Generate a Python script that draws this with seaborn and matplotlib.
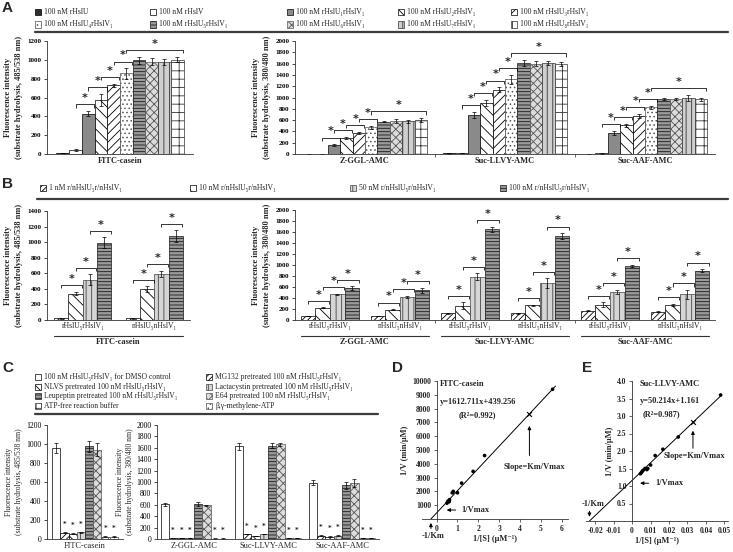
import numpy as np
import pandas as pd
import matplotlib
matplotlib.use("Agg")
import matplotlib.pyplot as plt
import matplotlib.transforms as mtransforms
from matplotlib.patches import Rectangle
from matplotlib.lines import Line2D
import seaborn as sns

# ======================= DATA =======================
# ---- Panel A ----
A_series = ["100 nM rHslU", "100 nM rHslV", "100 nM rHslU₁rHslV₁", "100 nM rHslU₂rHslV₁",
            "100 nM rHslU₃rHslV₁", "100 nM rHslU₄rHslV₁", "100 nM rHslU₅rHslV₁",
            "100 nM rHslU₆rHslV₁", "100 nM rHslU₇rHslV₁", "100 nM rHslU₈rHslV₁"]
A_left_cats = ["FITC-casein"]
A_right_cats = ["Z-GGL-AMC", "Suc-LLVY-AMC", "Suc-AAF-AMC"]
A_fitc = [10, 45, 430, 570, 730, 855, 995, 980, 980, 1000]
A_fitc_err = [3, 8, 25, 65, 15, 55, 35, 40, 30, 25]
A_zggl = [5, 5, 160, 285, 375, 470, 575, 590, 580, 600]
A_zggl_err = [2, 2, 12, 20, 15, 25, 15, 35, 25, 35]
A_llvy = [10, 20, 690, 905, 1140, 1320, 1610, 1600, 1610, 1600]
A_llvy_err = [3, 3, 50, 55, 40, 80, 50, 50, 30, 35]
A_aaf = [5, 10, 370, 505, 670, 830, 975, 975, 995, 965]
A_aaf_err = [3, 3, 40, 30, 40, 25, 25, 25, 55, 35]
A_brackets = [(1, 2), (2, 3), (3, 4), (4, 5), (5, 9)]

# ---- Panel B ----
B_series = ["1 nM r/nHslU₅r/nHslV₁", "10 nM r/nHslU₅r/nHslV₁",
            "50 nM r/nHslU₅r/nHslV₁", "100 nM r/nHslU₅r/nHslV₁"]
B_groups = ["rHslU₅rHslV₁", "nHslU₅nHslV₁"]
B_left_sub = "FITC-casein"
B_right_subs = ["Z-GGL-AMC", "Suc-LLVY-AMC", "Suc-AAF-AMC"]
B_fitc_r = [20, 340, 520, 990]
B_fitc_r_err = [3, 25, 70, 70]
B_fitc_n = [20, 395, 590, 1075]
B_fitc_n_err = [3, 40, 40, 75]
B_zggl_r = [70, 220, 465, 580]
B_zggl_r_err = [5, 8, 15, 30]
B_zggl_n = [70, 190, 420, 540]
B_zggl_n_err = [5, 8, 20, 50]
B_llvy_r = [120, 260, 790, 1650]
B_llvy_r_err = [5, 60, 60, 50]
B_llvy_n = [120, 265, 670, 1530]
B_llvy_n_err = [5, 15, 90, 50]
B_aaf_r = [170, 280, 510, 980]
B_aaf_r_err = [10, 40, 40, 25]
B_aaf_n = [150, 280, 465, 895]
B_aaf_n_err = [10, 20, 80, 30]
B_brackets = [(0, 1), (1, 2), (2, 3)]

# ---- Panel C ----
C_series = ["100 nM rHslU₅rHslV₁ for DMSO control", "MG132 pretreated 100 nM rHslU₅rHslV₁",
            "NLVS pretreated 100 nM rHslU₅rHslV₁", "Lactacystin pretreated 100 nM rHslU₅rHslV₁",
            "Leupeptin pretreated 100 nM rHslU₅rHslV₁", "E64 pretreated 100 nM rHslU₅rHslV₁",
            "ATP-free reaction buffer", "β,γ-methylene-ATP"]
C_left_cats = ["FITC-casein"]
C_right_cats = ["Z-GGL-AMC", "Suc-LLVY-AMC", "Suc-AAF-AMC"]
C_fitc = [960, 65, 55, 70, 975, 940, 25, 25]
C_fitc_err = [55, 5, 5, 5, 60, 70, 3, 3]
C_zggl = [610, 15, 12, 15, 615, 595, 8, 8]
C_zggl_err = [30, 2, 2, 2, 30, 10, 2, 2]
C_llvy = [1630, 90, 50, 90, 1640, 1660, 12, 12]
C_llvy_err = [60, 5, 5, 5, 40, 30, 2, 2]
C_aaf = [990, 60, 40, 60, 940, 975, 12, 12]
C_aaf_err = [50, 5, 5, 5, 60, 70, 2, 2]
C_starred = [1, 2, 3, 6, 7]

# ---- Panel D / E (Lineweaver-Burk) ----
D_x = [0.5, 0.55, 0.6, 0.62, 0.75, 0.8, 1.0, 1.2, 1.75, 2.3, 5.56]
D_y = [1150, 1300, 1250, 1400, 1900, 2000, 1900, 2600, 3450, 4600, 9400]
D_slope, D_icpt, D_r2 = 1612.711, 439.256, 0.992
D_mark_x = 4.45
E_x = [0.0045, 0.005, 0.0055, 0.006, 0.007, 0.008, 0.0085, 0.01, 0.0125, 0.0167, 0.025, 0.048]
E_y = [1.35, 1.38, 1.42, 1.45, 1.5, 1.47, 1.5, 1.6, 1.87, 2.05, 2.4, 3.6]
E_slope, E_icpt, E_r2 = 50.214, 1.161, 0.987
E_mark_x = 0.033

# ======================= STYLE =======================
sns.set_theme(style="ticks")
SER = ["Liberation Serif", "DejaVu Serif"]
plt.rcParams["font.family"] = SER
plt.rcParams["hatch.linewidth"] = 0.6
plt.rcParams["axes.linewidth"] = 0.6

A_styles = [("#2e2e2e", "", "black"), ("white", "", "black"), ("#8a8a8a", "", "black"),
            ("white", "\\\\\\", "black"), ("white", "////", "black"), ("white", "....", "#555555"),
            ("#9a9a9a", "-----", "#1a1a1a"), ("#dcdcdc", "xxxx", "#555555"),
            ("#cfcfcf", "|||", "#333333"), ("white", "++", "#333333")]
B_styles = [("white", "//////", "black"), ("white", "\\\\\\", "black"),
            ("#d5d5d5", "|||", "#444444"), ("#9a9a9a", "-----", "#1a1a1a")]
C_styles = [("white", "", "black"), ("white", "//////", "black"), ("white", "\\\\\\\\", "black"),
            ("#d5d5d5", "|||", "#444444"), ("#9a9a9a", "-----", "#1a1a1a"),
            ("#dcdcdc", "xxxx", "#555555"), ("white", "+++", "#333333"), ("white", "....", "#555555")]

W, H = 733, 552
fig = plt.figure(figsize=(W / 100, H / 100), dpi=100)


def fx(x):
    return x / W


def fy(y):
    return 1 - y / H


def axes_px(l, t, r, b):
    return fig.add_axes([l / W, 1 - b / H, (r - l) / W, (b - t) / H])


def draw_bars(ax, cats, series, table, errs, styles, width):
    rows = [(c, s, table[ci][si]) for ci, c in enumerate(cats) for si, s in enumerate(series)]
    df = pd.DataFrame(rows, columns=["cat", "series", "val"])
    sns.barplot(data=df, x="cat", y="val", hue="series", order=cats, hue_order=series,
                palette=[st[0] for st in styles], saturation=1, errorbar=None, width=width,
                dodge=True, legend=False, ax=ax, linewidth=0.5, edgecolor="black")
    conts = list(ax.containers)
    for si, (cont, st) in enumerate(zip(conts, styles)):
        face, hatch, edge = st
        xs, ys, es = [], [], []
        for ci, p in enumerate(cont.patches):
            p.set_facecolor(face)
            p.set_edgecolor(edge)
            p.set_hatch(hatch)
            p.set_linewidth(0.5)
            xs.append(p.get_x() + p.get_width() / 2)
            ys.append(p.get_height())
            es.append(errs[ci][si])
        ax.errorbar(xs, ys, yerr=es, fmt="none", ecolor="black", elinewidth=0.5,
                    capsize=1.4, capthick=0.5)
    ax.set_xlim(-0.5, len(cats) - 0.5)
    return conts


def bracket(ax, conts, c, i, j, vals, errs, ymax):
    pi, pj = conts[i].patches[c], conts[j].patches[c]
    w = pi.get_width()
    x1 = pi.get_x() + w / 2
    x2 = pj.get_x() + w / 2 + 0.45 * w
    top = max(vals[k] + errs[k] for k in range(i, j + 1))
    y = top + 0.06 * ymax
    ax.plot([x1, x1, x2, x2], [y - 0.028 * ymax, y, y, y - 0.028 * ymax], color="black",
            lw=0.55, solid_capstyle="butt", clip_on=False)
    ax.text((x1 + x2) / 2, y + 0.055 * ymax, "*", ha="center", va="center", fontsize=8,
            fontweight="bold", family="DejaVu Sans", clip_on=False)


def style_axes(ax, ymax, step, bold=True, tfs=5.0):
    ax.set_ylim(0, ymax)
    ax.set_yticks(np.arange(0, ymax + 1, step))
    sns.despine(ax=ax)
    for sp in ["left", "bottom"]:
        ax.spines[sp].set_linewidth(0.6)
        ax.spines[sp].set_color("#333333")
    ax.tick_params(axis="y", length=2, width=0.5, pad=2, labelsize=tfs, colors="black")
    ax.tick_params(axis="x", which="major", length=0, pad=2.5)
    ax.tick_params(axis="x", which="minor", length=2, width=0.5)
    ax.set_xlabel("")
    for lab in ax.get_yticklabels():
        lab.set_fontweight("bold" if bold else "normal")


def legend_item(x, y, label, style, fs=5.5, box=6):
    face, hatch, edge = style
    fig.add_artist(Rectangle((fx(x), fy(y + box / 2)), box / W, box / H,
                             transform=fig.transFigure, facecolor=face, edgecolor=edge,
                             hatch=hatch, lw=0.5))
    fig.text(fx(x + box + 3), fy(y), label, fontsize=fs, va="center", ha="left")


def hline(x0, x1, y, lw=1.6):
    fig.add_artist(Line2D([fx(x0), fx(x1)], [fy(y), fy(y)], transform=fig.transFigure,
                          color="#3c3c3c", lw=lw))


def panel_letter(x, y, s):
    fig.text(fx(x), fy(y), s, fontsize=11, fontweight="bold", family="Liberation Sans",
             va="center", ha="left")


YL1 = "Fluorescence intensity\n(substrate hydrolysis, 485/538 nm)"
YL2 = "Fluorescence intensity\n(substrate hydrolysis, 380/480 nm)"

# ======================= PANEL A =======================
panel_letter(2, 8, "A")
A_cols = [35, 150, 287, 398, 511]
for k, (lab, st) in enumerate(zip(A_series, A_styles)):
    row = k // 5
    col = k % 5
    legend_item(A_cols[col], 12 + 12.5 * row, lab, st)
hline(35, 728, 32)

axA1 = axes_px(47, 41, 193, 154)
conts = draw_bars(axA1, A_left_cats, A_series, [A_fitc], [A_fitc_err], A_styles, 0.87)
style_axes(axA1, 1200, 200)
for (i, j) in A_brackets:
    bracket(axA1, conts, 0, i, j, A_fitc, A_fitc_err, 1200)
axA1.set_xticks([0])
axA1.set_xticklabels(A_left_cats, fontsize=6, fontweight="bold")
axA1.set_ylabel(YL1, fontsize=6, fontweight="bold", labelpad=3, linespacing=1.5)

axA2 = axes_px(295, 41, 715, 154)
A_right_tab = [A_zggl, A_llvy, A_aaf]
A_right_err = [A_zggl_err, A_llvy_err, A_aaf_err]
conts = draw_bars(axA2, A_right_cats, A_series, A_right_tab, A_right_err, A_styles, 0.885)
style_axes(axA2, 2000, 200)
for c in range(3):
    for (i, j) in A_brackets:
        bracket(axA2, conts, c, i, j, A_right_tab[c], A_right_err[c], 2000)
axA2.set_xticks(range(3))
axA2.set_xticklabels(A_right_cats, fontsize=6, fontweight="bold")
axA2.set_xticks([0.5, 1.5], minor=True)
axA2.set_ylabel(YL2, fontsize=6, fontweight="bold", labelpad=3, linespacing=1.5)

# ======================= PANEL B =======================
panel_letter(2, 184, "B")
B_cols = [40, 190, 350, 500]
for k, (lab, st) in enumerate(zip(B_series, B_styles)):
    legend_item(B_cols[k], 188, lab, st)
hline(37, 728, 199)


def group_lines(ax, n_sub, width, y_line, y_text, subs):
    tr = mtransforms.blended_transform_factory(ax.transData, fig.transFigure)
    for s in range(n_sub):
        x0 = 2 * s - width / 2
        x1 = 2 * s + 1 + width / 2
        ax.add_line(Line2D([x0, x1], [fy(y_line), fy(y_line)], transform=tr, color="#333333",
                           lw=0.8, clip_on=False))
        ax.text((x0 + x1) / 2, fy(y_text), subs[s], transform=tr, ha="center", va="center",
                fontsize=6, fontweight="bold")


axB1 = axes_px(47, 211, 190, 320)
B_left_tab = [B_fitc_r, B_fitc_n]
B_left_err = [B_fitc_r_err, B_fitc_n_err]
conts = draw_bars(axB1, B_groups, B_series, B_left_tab, B_left_err, B_styles, 0.8)
style_axes(axB1, 1400, 200)
for c in range(2):
    for (i, j) in B_brackets:
        bracket(axB1, conts, c, i, j, B_left_tab[c], B_left_err[c], 1400)
axB1.set_xticks(range(2))
axB1.set_xticklabels(B_groups, fontsize=5.5)
axB1.tick_params(axis="x", pad=1.5)
axB1.set_ylabel(YL1, fontsize=6, fontweight="bold", labelpad=3, linespacing=1.5)
group_lines(axB1, 1, 0.8, 336, 342, [B_left_sub])

axB2 = axes_px(295, 210, 715, 320)
B_right_cats = [f"{s}|{g}" for s in B_right_subs for g in B_groups]
B_right_tab = [B_zggl_r, B_zggl_n, B_llvy_r, B_llvy_n, B_aaf_r, B_aaf_n]
B_right_err = [B_zggl_r_err, B_zggl_n_err, B_llvy_r_err, B_llvy_n_err, B_aaf_r_err, B_aaf_n_err]
conts = draw_bars(axB2, B_right_cats, B_series, B_right_tab, B_right_err, B_styles, 0.84)
style_axes(axB2, 2000, 200)
for c in range(6):
    for (i, j) in B_brackets:
        bracket(axB2, conts, c, i, j, B_right_tab[c], B_right_err[c], 2000)
axB2.set_xticks(range(6))
axB2.set_xticklabels(B_groups * 3, fontsize=5.5)
axB2.set_xticks([1.5, 3.5], minor=True)
axB2.tick_params(axis="x", pad=1.5)
axB2.set_ylabel(YL2, fontsize=6, fontweight="bold", labelpad=3, linespacing=1.5)
group_lines(axB2, 3, 0.84, 336, 342, B_right_subs)

# ======================= PANEL C =======================
panel_letter(2, 368, "C")
C_leg_order = [0, 2, 4, 6, 1, 3, 5, 7]
for k, si in enumerate(C_leg_order):
    col, row = k // 4, k % 4
    legend_item([35, 206][col], 377 + 9.7 * row, C_series[si], C_styles[si], fs=5.5)
hline(35, 378, 414)


def c_stars(ax, conts, c, vals, errs, ymax):
    for i in C_starred:
        p = conts[i].patches[c]
        ax.text(p.get_x() + p.get_width() / 2, vals[i] + errs[i] + 0.07 * ymax, "*",
                ha="center", va="center", fontsize=5, fontweight="bold", family="DejaVu Sans")


axC1 = axes_px(47, 425, 123, 539)
conts = draw_bars(axC1, C_left_cats, C_series, [C_fitc], [C_fitc_err], C_styles, 0.86)
style_axes(axC1, 1200, 200, bold=False, tfs=5.5)
c_stars(axC1, conts, 0, C_fitc, C_fitc_err, 1200)
axC1.set_xticks([0])
axC1.set_xticklabels(C_left_cats, fontsize=6)
axC1.set_ylabel(YL1, fontsize=5.5, labelpad=2, linespacing=1.4)

axC2 = axes_px(157, 425, 379, 539)
C_right_tab = [C_zggl, C_llvy, C_aaf]
C_right_err = [C_zggl_err, C_llvy_err, C_aaf_err]
conts = draw_bars(axC2, C_right_cats, C_series, C_right_tab, C_right_err, C_styles, 0.9)
style_axes(axC2, 2000, 200, bold=False, tfs=5.5)
for c in range(3):
    c_stars(axC2, conts, c, C_right_tab[c], C_right_err[c], 2000)
axC2.set_xticks(range(3))
axC2.set_xticklabels(C_right_cats, fontsize=6)
axC2.set_ylabel(YL2, fontsize=5.5, labelpad=1.5, linespacing=1.3)


# ======================= PANEL D / E =======================
def lb_axes(ax, xs, ys, slope, icpt, mark_x, x_end, xlim, ylim, xticks, xlabels, yticks, ylabels):
    sns.scatterplot(x=xs, y=ys, ax=ax, color="black", s=7, edgecolor="none", legend=False)
    x0 = -icpt / slope
    lx = np.array([x0, x_end])
    sns.lineplot(x=lx, y=slope * lx + icpt, ax=ax, color="black", lw=0.7)
    sns.scatterplot(x=[mark_x], y=[slope * mark_x + icpt], ax=ax, color="black", marker="x",
                    s=12, linewidth=0.8, legend=False)
    ax.set_xlim(*xlim)
    ax.set_ylim(*ylim)
    ax.spines["left"].set_position(("data", 0))
    ax.spines["bottom"].set_position(("data", 0))
    sns.despine(ax=ax)
    for sp in ["left", "bottom"]:
        ax.spines[sp].set_linewidth(0.6)
        ax.spines[sp].set_color("#333333")
    ax.set_xticks(xticks)
    ax.set_xticklabels(xlabels, fontsize=5.5, fontweight="bold")
    ax.set_yticks(yticks)
    ax.set_yticklabels(ylabels, fontsize=5.5, fontweight="bold")
    ax.tick_params(length=2, width=0.5, pad=2)
    ax.set_ylabel("1/V (min/μM)", fontsize=6, fontweight="bold", labelpad=2)
    ax.set_xlabel("1/[S] (μM⁻¹)", fontsize=6, fontweight="bold", labelpad=2)
    return x0


panel_letter(392, 368, "D")
axD = axes_px(422, 381, 568, 519)
D_xt = list(range(0, 7))
D_yt = list(range(1000, 10001, 1000))
d0 = lb_axes(axD, D_x, D_y, D_slope, D_icpt, D_mark_x, 5.7, (-0.7, 6.3), (0, 10000),
             D_xt, [str(v) for v in D_xt], D_yt, [str(v) for v in D_yt])
tkw = dict(fontsize=6, fontweight="bold")
axD.text(0.15, 9750, "FITC-casein", ha="left", va="center", **tkw)
axD.text(0.15, 8480, f"y={D_slope:.3f}x+{D_icpt:.3f}", ha="left", va="center", **tkw)
axD.text(1.95, 7550, f"(R²={D_r2:.3f})", ha="center", va="center", **tkw)
arr = dict(arrowstyle="-|>", color="black", lw=0.7, mutation_scale=5)
axD.annotate("", xy=(D_mark_x, 6950), xytext=(D_mark_x, 4400), arrowprops=arr)
axD.text(4.7, 3800, "Slope=Km/Vmax", ha="center", va="center", **tkw)
axD.annotate("", xy=(0.35, 650), xytext=(1.05, 650), arrowprops=arr)
axD.text(1.2, 650, "1/Vmax", ha="left", va="center", **tkw)
axD.annotate("", xy=(d0, -80), xytext=(d0, -900), arrowprops=arr, annotation_clip=False)
axD.text(-0.15, -1250, "-1/Km", ha="center", va="center", clip_on=False, **tkw)

panel_letter(582, 368, "E")
axE = axes_px(586, 381, 728, 521)
E_xt = [-0.02, -0.01, 0, 0.01, 0.02, 0.03, 0.04, 0.05]
E_xl = ["-0.02", "-0.01", "0", "0.01", "0.02", "0.03", "0.04", "0.05"]
E_yt = [0.5, 1.0, 1.5, 2.0, 2.5, 3.0, 3.5, 4.0]
e0 = lb_axes(axE, E_x, E_y, E_slope, E_icpt, E_mark_x, 0.0485, (-0.025, 0.052), (0, 4.0),
             E_xt, E_xl, E_yt, [f"{v:.1f}" for v in E_yt])
axE.text(0.004, 3.9, "Suc-LLVY-AMC", ha="left", va="center", **tkw)
axE.text(0.004, 3.42, f"y={E_slope:.3f}x+{E_icpt:.3f}", ha="left", va="center", **tkw)
axE.text(0.016, 3.06, f"(R²={E_r2:.3f})", ha="center", va="center", **tkw)
axE.annotate("", xy=(E_mark_x, 2.66), xytext=(E_mark_x, 2.0), arrowprops=arr)
axE.text(0.0335, 1.86, "Slope=Km/Vmax", ha="center", va="center", **tkw)
axE.annotate("", xy=(0.0028, 1.08), xytext=(0.0105, 1.08), arrowprops=arr)
axE.text(0.0125, 1.08, "1/Vmax", ha="left", va="center", **tkw)
axE.annotate("", xy=(e0, 0.04), xytext=(e0, 0.36), arrowprops=arr)
axE.text(-0.021, 0.5, "-1/Km", ha="center", va="center", **tkw)

fig.savefig("out.png", dpi=100)
